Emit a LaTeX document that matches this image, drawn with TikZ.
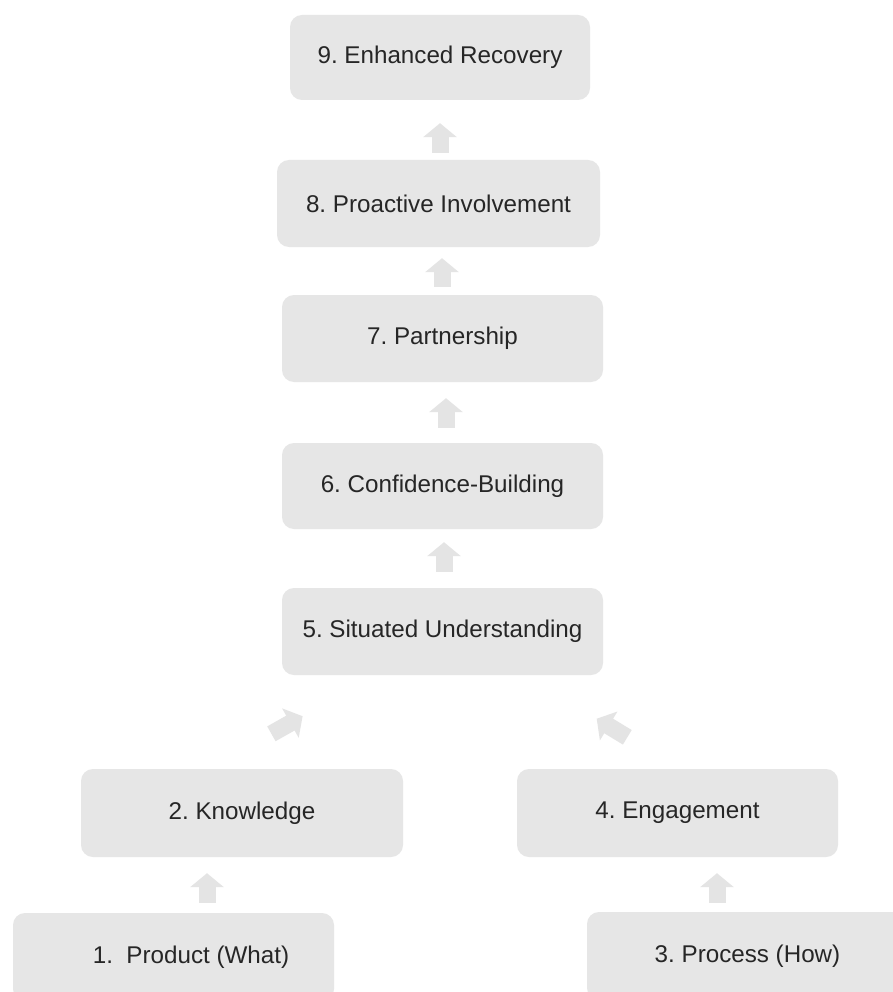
\documentclass[tikz,border=0pt]{standalone}
\usepackage{fontspec}
\setmainfont{Liberation Sans}
\usetikzlibrary{arrows.meta}
\definecolor{boxgray}{RGB}{230,230,230}
\definecolor{arrowgray}{RGB}{228,228,228}
\definecolor{txt}{RGB}{38,38,38}
\frenchspacing
\begin{document}
\begin{tikzpicture}[x=1pt,y=-1pt,
  stage/.style={fill=boxgray, draw=none, rounded corners=12pt, inner sep=0pt,
    minimum width=321pt, minimum height=87pt, text=txt,
    font=\fontsize{24.2}{28}\selectfont},
  blk/.style={draw=arrowgray, line width=17pt,
    -{Triangle[width=33pt,length=14pt]}}]
\clip (0,0) rectangle (893,992);
\fill[white] (0,0) rectangle (893,992);
% boxes
\node[stage, minimum width=300pt, minimum height=85pt] (b9) at (440,57.5) {9. Enhanced Recovery};
\node[stage, minimum width=323pt] (b8) at (438.5,203.5) {8. Proactive Involvement};
\node[stage] (b7) at (442.5,338.5) {7. Partnership};
\node[stage, minimum height=86pt] (b6) at (442.5,486) {6. Confidence-Building};
\node[stage] (b5) at (442.5,631.5) {5. Situated Understanding};
\node[stage, minimum width=322pt, minimum height=88pt] (b2) at (242,813) {2. Knowledge};
\node[stage, minimum height=88pt] (b4) at (677.5,813) {4. Engagement};
\node[stage, minimum height=88pt] (b1) at (173.5,957) {\hspace*{35pt}1.\ \ Product (What)};
\node[stage, minimum height=88pt] (b3) at (747.5,956) {3. Process (How)};
% arrows
\draw[blk] ([xshift=1.5pt,yshift=7pt]b8.north) -- ([yshift=-23pt]b9.south);
\draw[blk] ([xshift=-0.5pt,yshift=8pt]b7.north) -- ([xshift=3.5pt,yshift=-11pt]b8.south);
\draw[blk] ([xshift=3.5pt,yshift=15pt]b6.north) -- ([xshift=3.5pt,yshift=-16pt]b7.south);
\draw[blk] ([xshift=1.5pt,yshift=16pt]b5.north) -- ([xshift=1.5pt,yshift=-13pt]b6.south);
\draw[blk] ([xshift=29.4pt,yshift=35pt]b2.north) -- ([xshift=-139.9pt,yshift=-41pt]b5.south);
\draw[blk] ([xshift=-50.2pt,yshift=31.5pt]b4.north) -- ([xshift=154.2pt,yshift=-43.5pt]b5.south);
\draw[blk] ([xshift=33.5pt,yshift=10pt]b1.north) -- ([xshift=-35pt,yshift=-16pt]b2.south);
\draw[blk] ([xshift=-30.5pt,yshift=9pt]b3.north) -- ([xshift=39.5pt,yshift=-16pt]b4.south);
\end{tikzpicture}
\end{document}
